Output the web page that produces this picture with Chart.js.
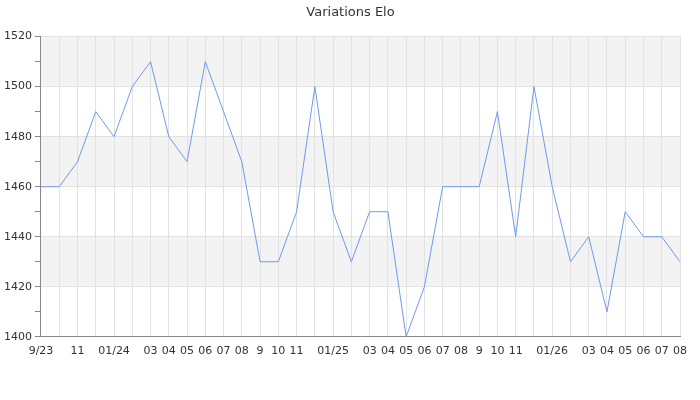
<!DOCTYPE html>
<html>
<head>
<meta charset="utf-8">
<script src="https://cdn.jsdelivr.net/npm/chart.js@4"></script>
<style>
  body { margin: 0; background: #fff; }
  #wrap { width: 700px; height: 400px; }
</style>
</head>
<body>
<div id="wrap"><canvas id="canvas"></canvas></div>
<script>
// one point per month, Sep 2023 -> Aug 2026
let months = ["9/23", "10", "11", "12", "01/24", "02", "03", "04", "05", "06", "07", "08",
  "9", "10", "11", "12", "01/25", "02", "03", "04", "05", "06", "07", "08",
  "9", "10", "11", "12", "01/26", "02", "03", "04", "05", "06", "07", "08"];
// labels actually printed under the axis (blank = skipped)
let tickLabels = ["9/23", "", "11", "", "01/24", "", "03", "04", "05", "06", "07", "08",
  "9", "10", "11", "", "01/25", "", "03", "04", "05", "06", "07", "08",
  "9", "10", "11", "", "01/26", "", "03", "04", "05", "06", "07", "08"];
let elo = [1460, 1460, 1470, 1490, 1480, 1500, 1510, 1480, 1470, 1510, 1490, 1470,
  1430, 1430, 1450, 1500, 1450, 1430, 1450, 1450, 1400, 1420, 1460, 1460,
  1460, 1490, 1440, 1500, 1460, 1430, 1440, 1410, 1450, 1440, 1440, 1430];
// shaded horizontal bands [from, to]
let bands = [[1500, 1520], [1460, 1480], [1420, 1440]];

const bandPlugin = {
  id: "bands",
  beforeDraw(chart) {
    const ctx = chart.ctx;
    const area = chart.chartArea;
    const y = chart.scales.y;
    ctx.save();
    ctx.fillStyle = "#f3f3f3";
    bands.forEach((b) => {
      const top = y.getPixelForValue(b[1]);
      const bottom = y.getPixelForValue(b[0]);
      ctx.fillRect(area.left, top, area.right - area.left, bottom - top);
    });
    ctx.restore();
  },
};

Chart.defaults.font.family = "DejaVu Sans";
Chart.defaults.color = "#333";

const ctx = document.getElementById("canvas").getContext("2d");
const myChart = new Chart(ctx, {
  type: "line",
  data: {
    labels: months,
    datasets: [
      {
        label: "Elo",
        data: elo,
        borderColor: "#6f9aec",
        backgroundColor: "transparent",
        borderWidth: 1,
        pointRadius: 0,
        tension: 0,
      },
    ],
  },
  plugins: [bandPlugin],
  options: {
    responsive: true,
    maintainAspectRatio: false,
    animation: false,
    layout: { padding: { left: 1, right: 0, top: 0, bottom: 34 } },
    plugins: {
      legend: { display: false },
      tooltip: { enabled: false },
      title: {
        display: true,
        text: "Variations Elo",
        color: "#333",
        font: { size: 13, weight: "normal" },
        padding: { top: 5, bottom: 16 },
      },
    },
    scales: {
      x: {
        offset: false,
        grid: {
          color: "#e2e2e2",
          drawTicks: false,
        },
        border: { color: "#888" },
        ticks: {
          autoSkip: false,
          maxRotation: 0,
          padding: 8,
          font: { size: 11 },
          callback: (v, i) => tickLabels[i],
        },
      },
      y: {
        min: 1400,
        max: 1520,
        grid: {
          color: (c) => (c.tick.value % 20 === 0 ? "#e2e2e2" : "transparent"),
          tickColor: "#888",
          tickLength: 6,
        },
        border: { color: "#888" },
        ticks: {
          stepSize: 10,
          padding: 3,
          font: { size: 11 },
          callback: (v) => (v % 20 === 0 ? v : ""),
        },
      },
      // empty right axis, only keeps a margin so the title stays centred on the page
      yRight: {
        position: "right",
        min: 1400,
        max: 1520,
        grid: { display: false },
        border: { display: false },
        ticks: { display: false },
        afterFit: (s) => {
          s.width = 20;
        },
      },
    },
  },
});
</script>
</body>
</html>
